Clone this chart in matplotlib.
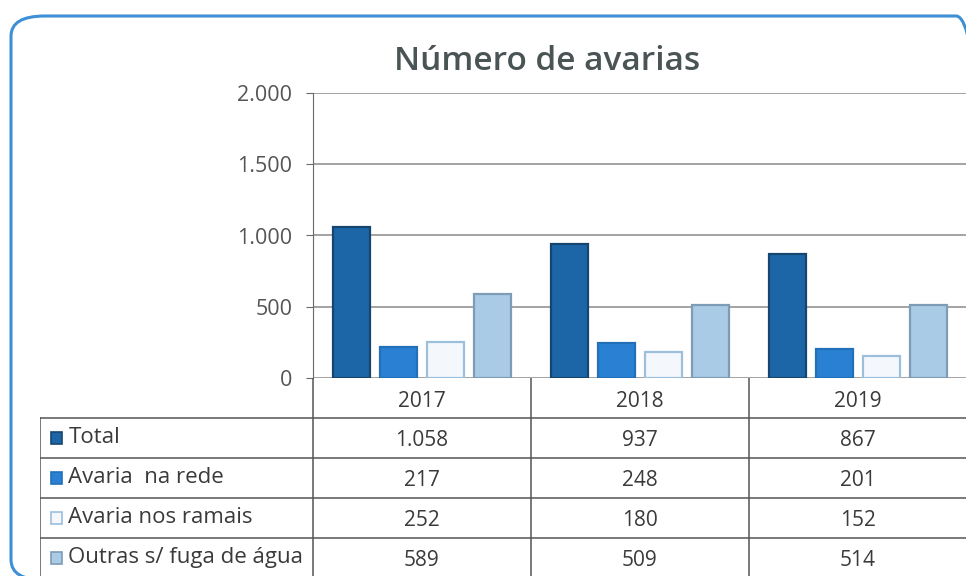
import matplotlib.pyplot as plt
import numpy as np
from matplotlib.patches import FancyBboxPatch, Rectangle

# data
years = ["2017", "2018", "2019"]
series_names = ["Total", "Avaria  na rede", "Avaria nos ramais", "Outras s/ fuga de água"]
total = [1058, 937, 867]
rede = [217, 248, 201]
ramais = [252, 180, 152]
outras = [589, 509, 514]
yticks = [0, 500, 1000, 1500, 2000]
ytick_labels = ["0", "500", "1.000", "1.500", "2.000"]

values = [total, rede, ramais, outras]
face = ["#1c66a8", "#2a80d2", "#f4f8fc", "#a9cbe6"]
edge = ["#16466f", "#2270b8", "#9cbfdc", "#7e9cb6"]

W, H = 966, 576
fig = plt.figure(figsize=(W / 100, H / 100), dpi=100)
plt.rcParams['font.family'] = ['Open Sans', 'DejaVu Sans']

def fx(px):
    return px / W

def fy(py):
    return 1 - py / H

# rounded frame around the chart (cut off right and bottom)
frame = FancyBboxPatch((fx(11), fy(580)), fx(990) - fx(11), fy(16) - fy(580),
                       boxstyle="round,pad=0,rounding_size=0.035",
                       transform=fig.transFigure, fill=False,
                       edgecolor="#3d8fd6", linewidth=2.2, clip_on=False)
fig.patches.append(frame)

# chart area
ax = fig.add_axes([fx(313), fy(378), fx(967) - fx(313), fy(93) - fy(378)])
x = np.arange(len(years))
step = 0.215
width = 0.17
for k, vals in enumerate(values):
    ax.bar(x + (k - 1.5) * step, vals, width, color=face[k], edgecolor=edge[k],
           linewidth=1.6, zorder=3)
ax.set_xlim(-0.5, 2.5)
ax.set_ylim(0, 2000)
ax.set_yticks(yticks)
ax.set_yticklabels(ytick_labels, fontsize=15.5, color="#555555")
ax.set_xticks([])
ax.grid(axis="y", color="#8a8a8a", linewidth=1.1, zorder=0)
for s in ["top", "right", "bottom"]:
    ax.spines[s].set_visible(False)
ax.spines["left"].set_color("#6a6a6a")
ax.tick_params(axis="y", length=5, color="#6a6a6a", pad=10)
ax.set_facecolor("none")

fig.text(fx(547), fy(61), "Número de avarias", ha="center", va="center",
         fontsize=24, fontweight="semibold", color="#4a5454")

# data table under the chart
tx = fig.add_axes([fx(40), fy(576), fx(967) - fx(40), fy(378) - fy(576)])
left = -0.5 - (313 - 40) / 218
tx.set_xlim(left, 2.5)
tx.set_ylim(4.95, 0)
tx.axis("off")
lc = "#555555"
for r in range(1, 5):
    tx.plot([left, 2.5], [r, r], color=lc, linewidth=1.1)
tx.plot([left, left], [1, 4.95], color=lc, linewidth=1.1)
for c in [-0.5, 0.5, 1.5]:
    tx.plot([c, c], [0, 4.95], color=lc, linewidth=1.1)

for i, yr in enumerate(years):
    tx.text(i, 0.58, yr, ha="center", va="center", fontsize=15, color="#3a3a3a")
for k, name in enumerate(series_names):
    yc = k + 1.5
    tx.add_patch(Rectangle((left + 0.05, yc - 0.14), 0.05, 0.28, facecolor=face[k],
                           edgecolor=edge[k], linewidth=1.2))
    tx.text(left + 0.13, yc - 0.02, name, ha="left", va="center", fontsize=16,
            color="#3a3a3a")
    for i in range(len(years)):
        label = f"{values[k][i]:,}".replace(",", ".")
        tx.text(i, yc + 0.05, label, ha="center", va="center", fontsize=15,
                color="#3a3a3a")

fig.savefig("out.png", dpi=100)
